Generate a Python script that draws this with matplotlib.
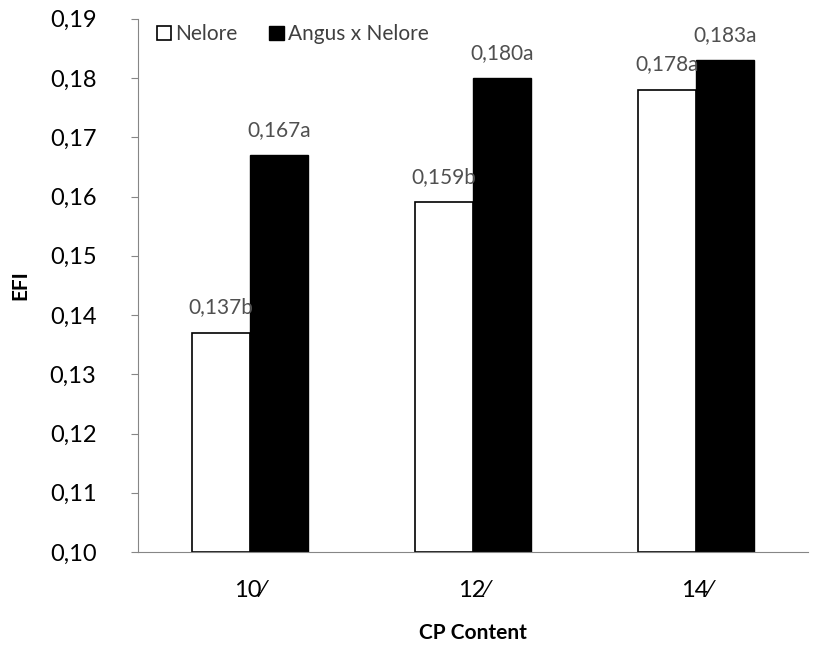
import matplotlib.pyplot as plt
import numpy as np

plt.rcParams['font.family'] = ['Lato', 'DejaVu Sans']

categories = ['10\u2044', '12\u2044', '14\u2044']
nelore = [0.137, 0.159, 0.178]
angus = [0.167, 0.180, 0.183]
nelore_labels = ['0,137b', '0,159b', '0,178a']
angus_labels = ['0,167a', '0,180a', '0,183a']
yticks = [0.10, 0.11, 0.12, 0.13, 0.14, 0.15, 0.16, 0.17, 0.18, 0.19]

fig = plt.figure(figsize=(8.22, 6.48), dpi=100)
ax = fig.add_axes([0.168, 0.148, 0.815, 0.823])

x = np.arange(len(categories))
w = 0.26
b1 = ax.bar(x - w / 2, [v - 0.10 for v in nelore], w, bottom=0.10, color='white',
            edgecolor='black', linewidth=1.2, label='Nelore')
b2 = ax.bar(x + w / 2, [v - 0.10 for v in angus], w, bottom=0.10, color='black',
            edgecolor='black', linewidth=1.0, label='Angus x Nelore')

# value labels above the bars
for i in range(len(categories)):
    ax.text(x[i] - w / 2, nelore[i] + 0.0026, nelore_labels[i], ha='center', va='bottom',
            fontsize=15, color='#505050')
    ax.text(x[i] + w / 2, angus[i] + 0.0026, angus_labels[i], ha='center', va='bottom',
            fontsize=15, color='#505050')

ax.set_xlim(-0.5, 2.5)
ax.set_ylim(0.10, 0.19)
ax.set_yticks(yticks)
ax.set_yticklabels([('%.2f' % t).replace('.', ',') for t in yticks], fontsize=17)
ax.set_xticks(x)
ax.set_xticklabels(categories, fontsize=17)
ax.tick_params(axis='x', length=0, pad=20)
ax.tick_params(axis='y', length=5, color='#868686', pad=25)

for s in ['top', 'right']:
    ax.spines[s].set_visible(False)
ax.spines['left'].set_color('#868686')
ax.spines['bottom'].set_color('#868686')

ax.set_ylabel('EFI', fontsize=15, fontweight='bold', labelpad=14)
ax.set_xlabel('CP Content', fontsize=15, fontweight='bold', labelpad=16)

ax.legend(loc='upper left', bbox_to_anchor=(0.0, 1.025), ncol=2, frameon=False,
          fontsize=15, handlelength=0.7, handleheight=0.7, handletextpad=0.2,
          columnspacing=1.5, labelcolor='#404040')

fig.savefig('out.png', dpi=100)
